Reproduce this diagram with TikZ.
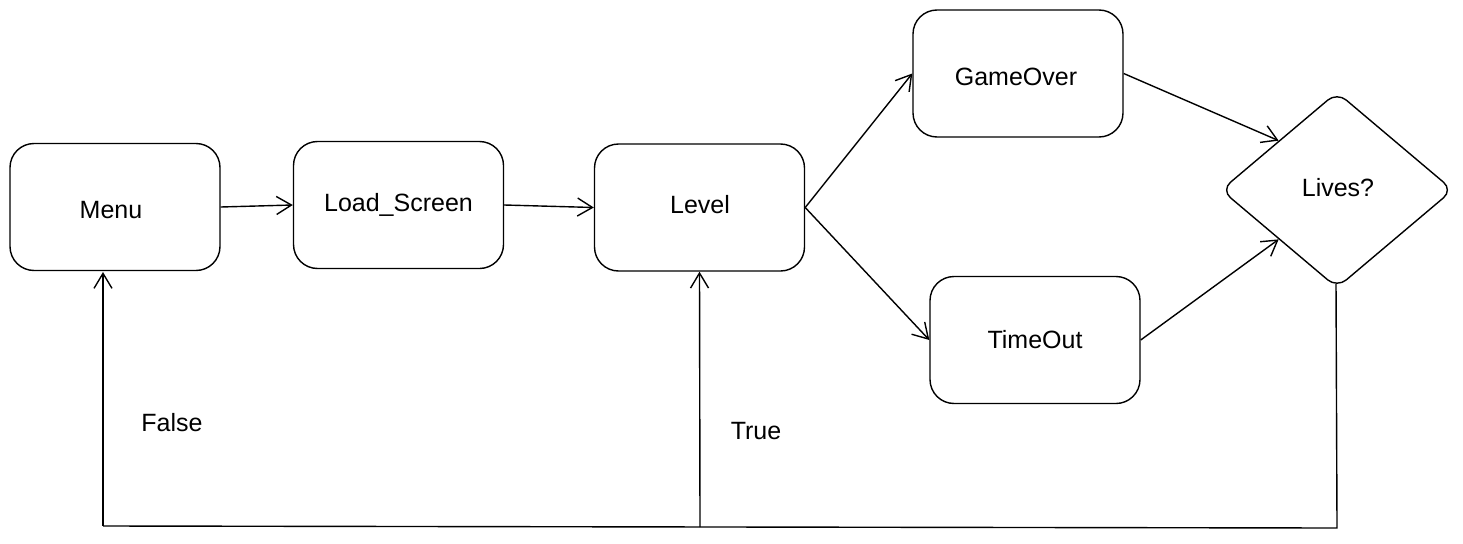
\documentclass[tikz,border=0pt]{standalone}
\usepackage{fontspec}
\setmainfont{Liberation Sans}
\usetikzlibrary{arrows.meta,shapes.geometric}
\begin{document}
\begin{tikzpicture}[x=1pt,y=-1pt,
  line width=1.4pt,
  stbox/.style={draw, rectangle, rounded corners=24pt, minimum width=210pt, minimum height=127pt, inner sep=0pt, font=\fontsize{25}{30}\selectfont},
  lbl/.style={font=\fontsize{25}{30}\selectfont, inner sep=0pt},
  arr/.style={-{Straight Barb[length=15pt,width=18pt,line width=1.4pt]}}
]
\useasboundingbox (0,0) rectangle (1463,543);
\node[stbox] (menu) at (115,207) {};
\node[lbl] at (111,210) {Menu};
\node[stbox] (load) at (398.5,205) {Load\_Screen};
\node[stbox] (level) at (699.5,207.5) {};
\node[lbl] at (700,205) {Level};
\node[stbox] (over) at (1018,73.5) {};
\node[lbl] at (1016,77) {GameOver};
\node[stbox] (time) at (1035,340) {};
\node[lbl] at (1035,340) {TimeOut};
\node[draw, diamond, rounded corners=12pt, minimum width=232pt, minimum height=196pt, inner sep=0pt] (lives) at (1337,190) {};
\node[lbl] at (1338,188) {Lives?};
\coordinate (ls) at (1336,284);
\coordinate (ca) at (1337,528);
\coordinate (cb) at (103,526);
\coordinate (cm) at (103,272);
\coordinate (cl) at (700,527);
\draw[arr] (menu.east) -- (load.west);
\draw[arr] (load.east) -- (level.west);
\draw[arr] (level.east) -- (over.west);
\draw[arr] (level.east) -- (time.west);
\draw[arr] (over.east) -- (lives.north west);
\draw[arr] (time.east) -- (lives.south west);
\draw (ls) -- (ca) -- (cb);
\draw[arr] (cb) -- (cm);
\draw[arr] (cl) -- (level.south);
\node[lbl] (f) at (172,423) {False};
\node[lbl] (t) at (756,431) {True};
\end{tikzpicture}
\end{document}
